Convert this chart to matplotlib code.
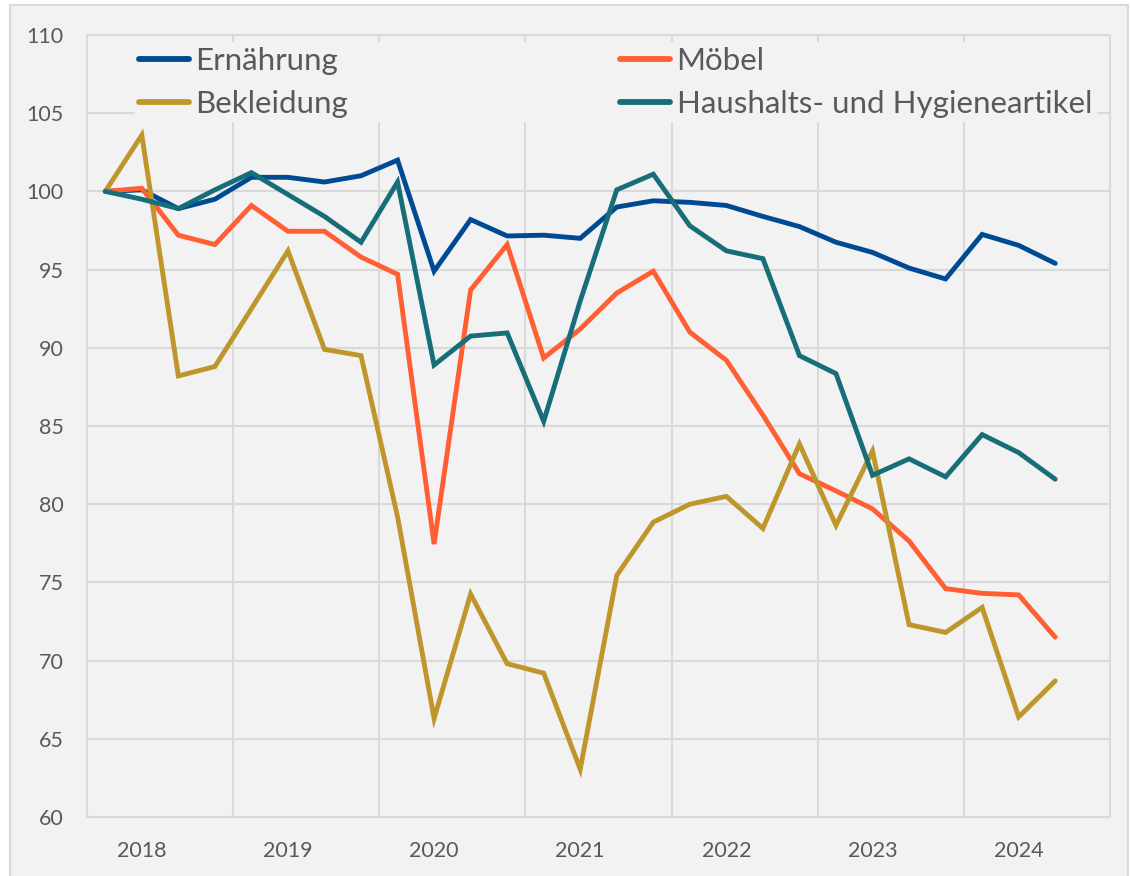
import matplotlib.pyplot as plt
from matplotlib.patches import Rectangle

plt.rcParams['font.family'] = ['Lato', 'DejaVu Sans']

# Quartalswerte 2018 Q1 bis 2024 Q3 (Index, 2018 Q1 = 100)
years = ['2018', '2019', '2020', '2021', '2022', '2023', '2024']

ernaehrung = [100.0, 100.1, 98.9, 99.5, 100.9, 100.9, 100.6, 101.0,
              102.0, 94.9, 98.2, 97.15, 97.2, 97.0, 99.0, 99.4,
              99.3, 99.1, 98.4, 97.75, 96.75, 96.1, 95.1, 94.4,
              97.25, 96.55, 95.4]
moebel = [100.0, 100.2, 97.2, 96.6, 99.1, 97.45, 97.45, 95.8,
          94.7, 77.45, 93.7, 96.6, 89.35, 91.2, 93.5, 94.9,
          91.0, 89.2, 85.7, 81.95, 80.85, 79.7, 77.65, 74.6,
          74.3, 74.2, 71.5]
bekleidung = [100.0, 103.6, 88.2, 88.8, 92.5, 96.2, 89.9, 89.5,
              79.2, 66.3, 74.25, 69.8, 69.2, 63.05, 75.45, 78.85,
              80.0, 80.5, 78.45, 83.85, 78.65, 83.4, 72.3, 71.8,
              73.4, 66.4, 68.7]
haushalt = [100.0, 99.5, 98.9, 100.1, 101.2, 99.8, 98.4, 96.75,
            100.6, 88.9, 90.75, 90.95, 85.3, 93.0, 100.1, 101.1,
            97.8, 96.2, 95.7, 89.5, 88.35, 81.85, 82.9, 81.75,
            84.45, 83.3, 81.6]

series = [
    ('Ernährung', ernaehrung, '#004A93'),
    ('Möbel', moebel, '#FF5F33'),
    ('Bekleidung', bekleidung, '#BF962B'),
    ('Haushalts- und Hygieneartikel', haushalt, '#186E78'),
]

fig = plt.figure(figsize=(11.3, 8.76), dpi=100, facecolor='white')
fig.patches.append(Rectangle((10 / 1130, -0.01), 1118 / 1130, 1 - 5 / 876 + 0.01,
                             transform=fig.transFigure, facecolor='#F2F2F2',
                             edgecolor='#D9D9D9', linewidth=1.5, zorder=-5))
ax = fig.add_axes([87 / 1130, 59 / 876, 1023 / 1130, 782 / 876])
ax.set_zorder(2)
ax.set_facecolor('#F2F2F2')

lines = {}
for name, vals, col in series:
    ln, = ax.plot(range(len(vals)), vals, color=col, lw=3.5,
                  solid_capstyle='round', solid_joinstyle='miter', zorder=3)
    lines[name] = ln

ax.set_xlim(-0.5, 27.5)
ax.set_ylim(60, 110)
ax.set_yticks(range(60, 111, 5))
ax.set_xticks([1 + 4 * i for i in range(len(years))])
ax.set_xticklabels(years)
ax.set_xticks([3.5 + 4 * i for i in range(6)], minor=True)

ax.grid(axis='y', which='major', color='#D9D9D9', lw=1.5, zorder=1)
ax.grid(axis='x', which='minor', color='#D9D9D9', lw=1.5, zorder=1)
ax.grid(axis='x', which='major', visible=False)
ax.tick_params(which='both', length=0)
ax.tick_params(axis='y', labelsize=15.5, labelcolor='#595959', pad=17)
ax.tick_params(axis='x', labelsize=15.5, labelcolor='#595959', pad=17)
for s in ax.spines.values():
    s.set_color('#D9D9D9')
    s.set_linewidth(1.5)

order = ['Ernährung', 'Bekleidung', 'Möbel', 'Haushalts- und Hygieneartikel']
leg = ax.legend([lines[n] for n in order], order, ncol=2,
                loc='upper left', bbox_to_anchor=(0.045, 0.993),
                fontsize=22.5, frameon=True, facecolor='#F2F2F2',
                edgecolor='none', framealpha=1, fancybox=False,
                handlelength=1.6, handletextpad=0.2, columnspacing=8.7,
                labelspacing=0.48, borderpad=0.15, borderaxespad=0.05)
for t in leg.get_texts():
    t.set_color('#595959')
for h in leg.get_lines():
    h.set_linewidth(4.2)
    h.set_solid_capstyle('round')
leg.set_zorder(5)

plt.savefig('out.png', dpi=100, facecolor=fig.get_facecolor())
